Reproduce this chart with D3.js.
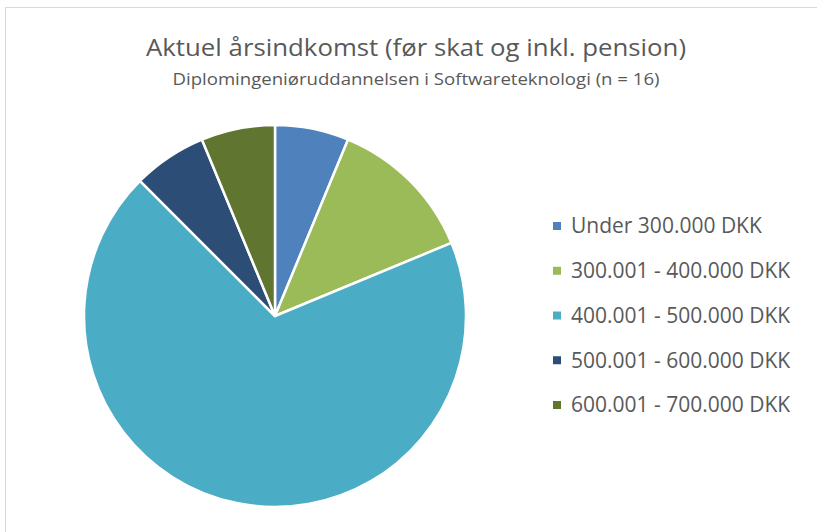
<!DOCTYPE html>
<html><head><meta charset="utf-8">
<script src="https://cdn.jsdelivr.net/npm/d3@7"></script>
<style>body{margin:0;background:#fff}svg{display:block}</style>
</head><body>
<svg id="c" width="817" height="532"></svg>
<script>
const categories = ["Under 300.000 DKK","300.001 - 400.000 DKK","400.001 - 500.000 DKK","500.001 - 600.000 DKK","600.001 - 700.000 DKK"];
const counts = [1, 2, 11, 1, 1];
const colors = ["#4f81bd","#9bbb59","#4bacc6","#2c4d75","#5f7530"];
const title = "Aktuel årsindkomst (før skat og inkl. pension)";
const subtitle = "Diplomingeniøruddannelsen i Softwareteknologi (n = 16)";

const svg = d3.select("#c");
svg.append("rect").attr("x",5.5).attr("y",7.5).attr("width",830).attr("height",540)
  .attr("fill","#fff").attr("stroke","#d9d9d9").attr("stroke-width",1);

svg.append("text").attr("x",416).attr("y",56).attr("text-anchor","middle")
  .attr("font-family","Open Sans, sans-serif").attr("font-size",24).attr("fill","#595959")
  .attr("textLength",540).attr("lengthAdjust","spacingAndGlyphs").text(title);
svg.append("text").attr("x",416).attr("y",85).attr("text-anchor","middle")
  .attr("font-family","Open Sans, sans-serif").attr("font-size",16).attr("fill","#595959")
  .attr("textLength",487).attr("lengthAdjust","spacingAndGlyphs").text(subtitle);

const color = d3.scaleOrdinal().domain(categories).range(colors);
const data = categories.map((c,i)=>({cat:c, v:counts[i]}));
const pie = d3.pie().value(d=>d.v).sort(null);
const arc = d3.arc().innerRadius(0).outerRadius(191);
const g = svg.append("g").attr("transform","translate(275,316)");
g.selectAll("path").data(pie(data)).join("path")
  .attr("d",arc).attr("fill",d=>color(d.data.cat))
  .attr("stroke","#fff").attr("stroke-width",2.5).attr("stroke-linejoin","round");

const y = d3.scalePoint().domain(categories).range([226,405]);
const lg = svg.append("g");
const items = lg.selectAll("g").data(categories).join("g")
  .attr("transform",d=>`translate(553,${y(d)})`);
items.append("rect").attr("x",0).attr("y",-4).attr("width",8).attr("height",8).attr("fill",d=>color(d));
items.append("text").attr("x",18).attr("y",0).attr("dy","0.35em")
  .attr("font-family","Open Sans, sans-serif").attr("font-size",21).attr("fill","#595959")
  .text(d=>d);
</script>
</body></html>
